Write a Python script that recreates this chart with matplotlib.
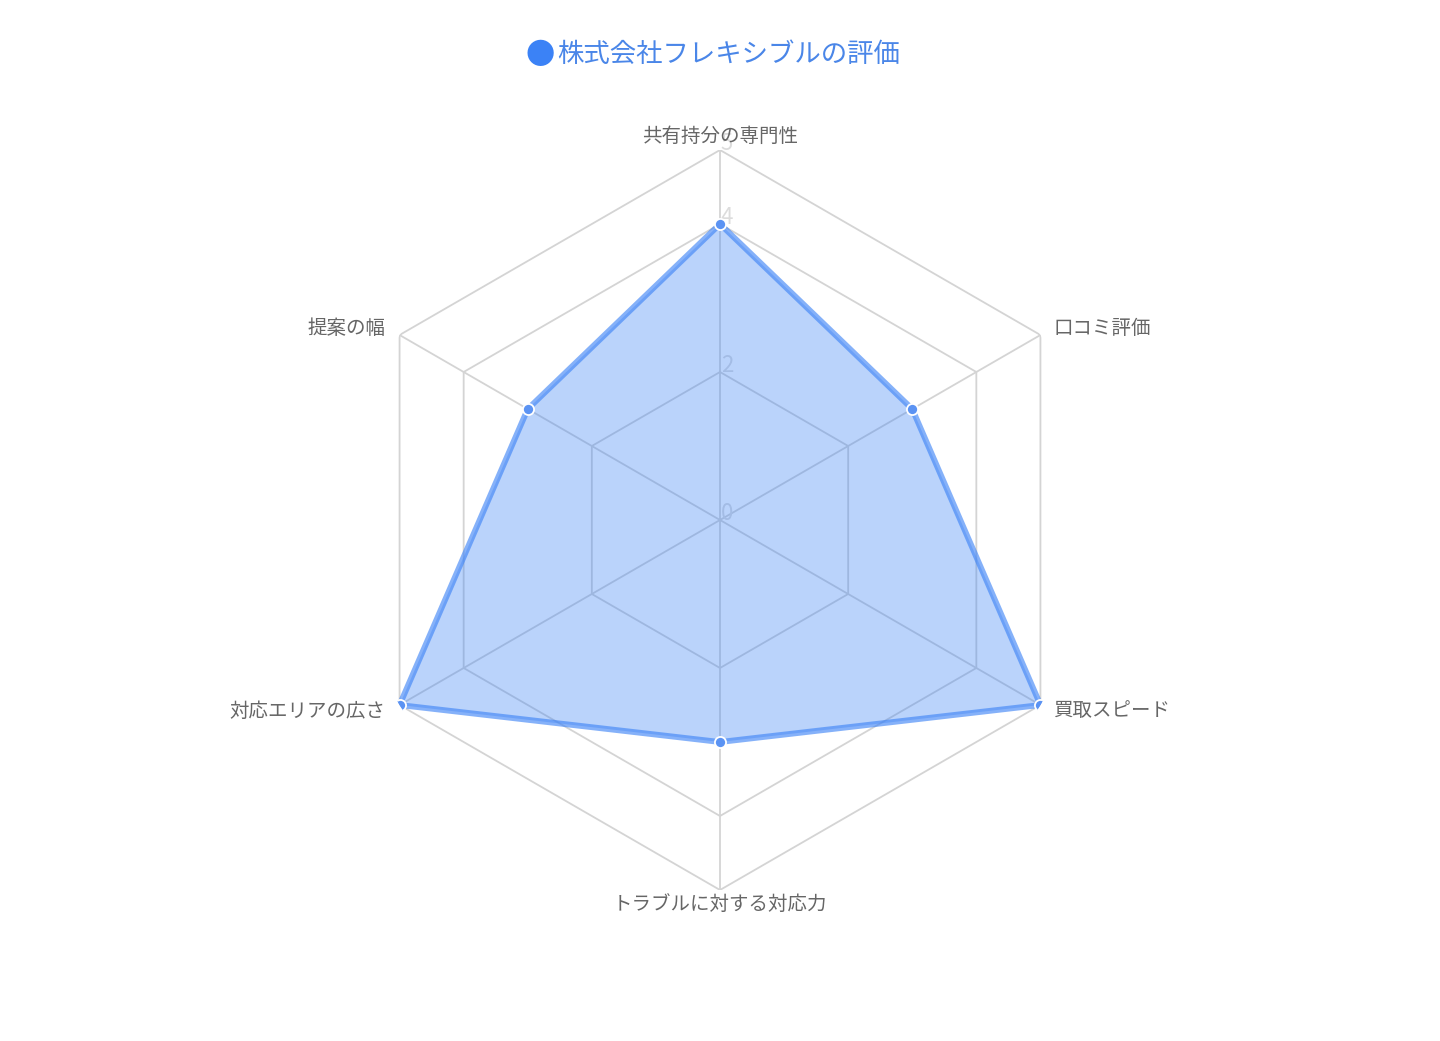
import numpy as np
import matplotlib.pyplot as plt

plt.rcParams['font.family'] = ['Noto Sans CJK JP', 'DejaVu Sans']

# data
categories = ['共有持分の専門性', '口コミ評価', '買取スピード',
              'トラブルに対する対応力', '対応エリアの広さ', '提案の幅']
scores = [4, 3, 5, 3, 5, 3]
grid_levels = [2, 4, 5]
tick_labels = [0, 2, 4, 5]
title = '株式会社フレキシブルの評価'

blue = '#3b82f6'
n = len(categories)
theta = np.linspace(0, 2 * np.pi, n, endpoint=False)
theta_closed = np.append(theta, theta[0])

fig = plt.figure(figsize=(14.4, 10.41), dpi=100)
W, H = 1440, 1041
cx, cy, R = 720, 520, 370
ax = fig.add_axes([(cx - R) / W, 1 - (cy + R) / H, 2 * R / W, 2 * R / H],
                  projection='polar')
ax.set_theta_offset(np.pi / 2)
ax.set_theta_direction(-1)
ax.set_ylim(0, 5)
ax.grid(False)
ax.spines['polar'].set_visible(False)
ax.set_xticks([])
ax.set_yticks([])
ax.patch.set_alpha(0)

# hexagon grid + spokes
for lvl in grid_levels:
    ax.plot(theta_closed, [lvl] * (n + 1), color='#d4d4d4', lw=1.3, zorder=1)
for t in theta:
    ax.plot([t, t], [0, 5], color='#d4d4d4', lw=1.3, zorder=1)

# radial tick labels
for v in tick_labels:
    ax.annotate(str(v), (0, v), xytext=(7, 7), textcoords='offset pixels',
                ha='center', va='center', fontsize=16, color='#dcdcdc', zorder=2)

# data polygon
vals = np.append(scores, scores[0])
ax.fill(theta_closed, vals, color=blue, alpha=0.35, lw=0, zorder=3)
ax.plot(theta_closed, vals, color=blue, alpha=0.62, lw=4.2, zorder=4,
        solid_joinstyle='round')
ax.plot(theta, scores, 'o', ms=8, mfc='#5b93f3', mec='white', mew=1.3, zorder=5)

# category labels
offsets = [(0, 14, 'center'), (13, 7, 'left'), (13, -6, 'left'),
           (0, -14, 'center'), (-14, -6, 'right'), (-14, 7, 'right')]
for t, lab, (dx, dy, ha) in zip(theta, categories, offsets):
    ax.annotate(lab, (t, 5), xytext=(dx, dy), textcoords='offset pixels',
                ha=ha, va='center', fontsize=14, color='#666666',
                annotation_clip=False)

# title
fig.text(540 / W, 1 - 56 / H, '●', ha='center', va='center',
         fontsize=21, color=blue)
fig.text(557 / W, 1 - 55 / H, title, ha='left', va='center',
         fontsize=19, color='#4a86e8')

fig.savefig('out.png', dpi=100)
